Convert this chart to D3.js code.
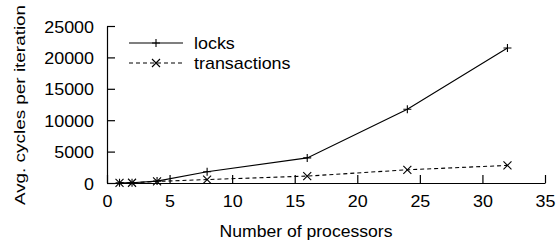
<!DOCTYPE html>
<html>
<head>
<meta charset="utf-8">
<script src="https://cdn.jsdelivr.net/npm/d3@7/dist/d3.min.js"></script>
<style>
  html, body { margin: 0; padding: 0; background: #fff; }
  svg { display: block; }
  text { font-family: "Liberation Sans", Arial, Helvetica, sans-serif; fill: #000; }
</style>
</head>
<body>
<svg id="chart" width="556" height="242"></svg>
<script>
const processors = [1, 2, 4, 8, 16, 24, 32];
const locks = [20, 50, 300, 1800, 4000, 11750, 21500];
const transactions = [20, 40, 250, 550, 1100, 2100, 2800];
const xTicks = [0, 5, 10, 15, 20, 25, 30, 35];
const yTicks = [0, 5000, 10000, 15000, 20000, 25000];
const seriesNames = ["locks", "transactions"];

const svg = d3.select("#chart");
const x = d3.scaleLinear().domain([0, 35]).range([107, 545]);
const y = d3.scaleLinear().domain([0, 25000]).range([183, 26]);

const FS = 16, SX = 1.12;

// axes (left & bottom only, ticks pointing inward)
const gx = svg.append("g").attr("transform", `translate(0,${y(0)})`)
  .call(d3.axisBottom(x).tickValues(xTicks).tickSize(-8).tickSizeOuter(0).tickPadding(0).tickFormat(d3.format("d")));
gx.select(".domain").attr("stroke", "#000").attr("stroke-width", 1.2);
gx.selectAll(".tick line").attr("stroke", "#000").attr("stroke-width", 1.2);
gx.selectAll(".tick text").attr("y", 0).attr("dy", 0)
  .attr("transform", `translate(0,24) scale(${SX},1)`)
  .style("font-size", FS + "px").attr("fill", "#000");

const gy = svg.append("g").attr("transform", `translate(${x(0)},0)`)
  .call(d3.axisLeft(y).tickValues(yTicks).tickSize(-8).tickSizeOuter(0).tickPadding(0).tickFormat(d3.format("d")));
gy.select(".domain").attr("stroke", "#000").attr("stroke-width", 1.2);
gy.selectAll(".tick line").attr("stroke", "#000").attr("stroke-width", 1.2);
gy.selectAll(".tick text").attr("x", 0).attr("dy", 0)
  .attr("transform", `translate(-13,6) scale(${SX},1)`)
  .style("font-size", FS + "px").attr("fill", "#000");
svg.selectAll(".domain").attr("fill", "none");

// axis titles
svg.append("text").attr("text-anchor", "middle")
  .attr("transform", `translate(306,237) scale(1.1,1)`)
  .style("font-size", "16px").text("Number of processors");
svg.append("text").attr("text-anchor", "middle")
  .attr("transform", `translate(25,105) rotate(-90) scale(1.35,1)`)
  .style("font-size", "14px").text("Avg. cycles per iteration");

const line = d3.line().x(d => x(d[0])).y(d => y(d[1]));
const lockPts = processors.map((p, i) => [p, locks[i]]);
const txPts = processors.map((p, i) => [p, transactions[i]]);

svg.append("path").datum(lockPts).attr("d", line)
  .attr("fill", "none").attr("stroke", "#000").attr("stroke-width", 1.1);
svg.append("path").datum(txPts).attr("d", line)
  .attr("fill", "none").attr("stroke", "#000").attr("stroke-width", 1.1)
  .attr("stroke-dasharray", "4,3");

const M = 4;
function plus(g, cx, cy) {
  g.append("path").attr("d", `M${cx - M},${cy}H${cx + M}M${cx},${cy - M}V${cy + M}`)
    .attr("stroke", "#000").attr("stroke-width", 1.1).attr("fill", "none");
}
function cross(g, cx, cy) {
  g.append("path").attr("d", `M${cx - M},${cy - M}L${cx + M},${cy + M}M${cx - M},${cy + M}L${cx + M},${cy - M}`)
    .attr("stroke", "#000").attr("stroke-width", 1.1).attr("fill", "none");
}
const mk = svg.append("g");
lockPts.forEach(d => plus(mk, x(d[0]), y(d[1])));
txPts.forEach(d => cross(mk, x(d[0]), y(d[1])));

// legend
const lg = svg.append("g");
const lx0 = 129, lx1 = 183, ly = [43, 63];
lg.append("line").attr("x1", lx0).attr("x2", lx1).attr("y1", ly[0]).attr("y2", ly[0])
  .attr("stroke", "#000").attr("stroke-width", 1.1);
plus(lg, (lx0 + lx1) / 2, ly[0]);
lg.append("line").attr("x1", lx0).attr("x2", lx1).attr("y1", ly[1]).attr("y2", ly[1])
  .attr("stroke", "#000").attr("stroke-width", 1.1).attr("stroke-dasharray", "4,3");
cross(lg, (lx0 + lx1) / 2, ly[1]);
seriesNames.forEach((n, i) => {
  lg.append("text").attr("transform", `translate(194,${ly[i] + 6}) scale(${SX},1)`)
    .style("font-size", FS + "px").text(n);
});
</script>
</body>
</html>
